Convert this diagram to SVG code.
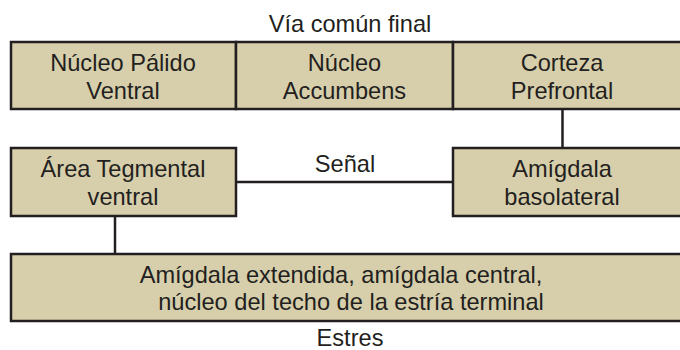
<svg xmlns="http://www.w3.org/2000/svg" width="680" height="350" viewBox="0 0 680 350">
<style>
.box{fill:#d7cfab;stroke:#231f20;stroke-width:2.5}
.ln{stroke:#231f20;stroke-width:2.5;fill:none}
text{font-family:"Liberation Sans",Arial,sans-serif;font-size:23.6px;fill:#231f20;text-anchor:middle}
</style>
<rect width="680" height="350" fill="#ffffff"/>
<text x="350" y="32">Vía común final</text>
<g id="nucleo-palido">
<rect class="box" x="11" y="42" width="225" height="67"/>
<text x="123" y="71">Núcleo Pálido</text>
<text x="123" y="98.5">Ventral</text>
</g>
<g id="nucleo-accumbens">
<rect class="box" x="236" y="42" width="217" height="67"/>
<text x="344.5" y="71">Núcleo</text>
<text x="344.5" y="98.5">Accumbens</text>
</g>
<g id="corteza-prefrontal">
<rect class="box" x="453" y="42" width="232" height="67"/>
<text x="562" y="71">Corteza</text>
<text x="562" y="98.5">Prefrontal</text>
</g>
<g id="area-tegmental">
<rect class="box" x="11" y="148" width="225" height="68"/>
<text x="123" y="177">Área Tegmental</text>
<text x="123" y="205">ventral</text>
</g>
<g id="amigdala-basolateral">
<rect class="box" x="453" y="148" width="232" height="68"/>
<text x="562" y="177">Amígdala</text>
<text x="562" y="205">basolateral</text>
</g>
<g id="amigdala-extendida">
<rect class="box" x="11" y="254" width="674" height="67"/>
<text x="341" y="282.5">Amígdala extendida, amígdala central,</text>
<text x="351" y="310">núcleo del techo de la estría terminal</text>
</g>
<g id="connectors">
<line class="ln" x1="562.5" y1="109" x2="562.5" y2="148"/>
<line class="ln" x1="236" y1="182" x2="453" y2="182"/>
<line class="ln" x1="115" y1="216" x2="115" y2="254"/>
</g>
<text x="345" y="172">Señal</text>
<text x="350" y="346">Estres</text>
</svg>
